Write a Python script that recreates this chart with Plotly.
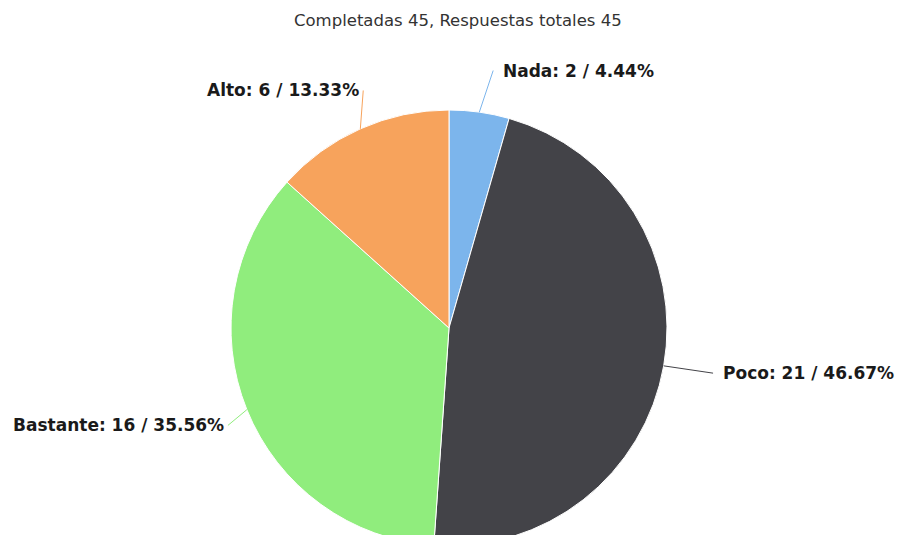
import math
import plotly.graph_objects as go

categories = ["Nada", "Poco", "Bastante", "Alto"]
values = [2, 21, 16, 6]
colors = ["#7cb5ec", "#434348", "#90ed7d", "#f7a35c"]
title_text = "Completadas 45, Respuestas totales 45"

W, H = 905, 550
# pie placement in pixels
cx_px, cy_px, r_px = 449, 328, 218

dom_x = [(cx_px - r_px) / W, (cx_px + r_px) / W]
dom_y = [1 - (cy_px + r_px) / H, 1 - (cy_px - r_px) / H]

fig = go.Figure(go.Pie(
    labels=categories, values=values, sort=False, direction="clockwise", rotation=0,
    marker=dict(colors=colors, line=dict(color="#ffffff", width=1)),
    textinfo="none", hoverinfo="label+value+percent", showlegend=False,
    domain=dict(x=dom_x, y=dom_y),
))

total = sum(values)
shapes, annotations = [], []
cum = 0
R_lab = r_px + 42
for cat, v, col in zip(categories, values, colors):
    mid = (cum + v / 2) / total * 2 * math.pi
    cum += v
    s, c = math.sin(mid), -math.cos(mid)
    ex, ey = cx_px + r_px * s, cy_px + r_px * c
    lx, ly = cx_px + R_lab * s, cy_px + R_lab * c
    right = s > 0
    tx = lx + 16 if right else lx + 18
    endx = tx - 8 if right else tx + 2
    shapes.append(dict(type="line", xref="paper", yref="paper",
                       x0=ex / W, y0=1 - ey / H, x1=endx / W, y1=1 - ly / H,
                       line=dict(color=col, width=1)))
    pct = v / total * 100
    annotations.append(dict(
        text=f"<b>{cat}: {v} / {pct:.2f}%</b>", xref="paper", yref="paper",
        x=max(tx, 0) / W, y=1 - ly / H, xanchor="left" if right else "right", yanchor="middle",
        showarrow=False, font=dict(family="DejaVu Sans", size=17, color="#1a1a1a")))

annotations.append(dict(text=title_text, xref="paper", yref="paper", x=458 / W, y=1 - 20 / H,
                        xanchor="center", yanchor="middle", showarrow=False,
                        font=dict(family="DejaVu Sans", size=16.5, color="#333333")))

fig.update_layout(width=W, height=H, margin=dict(l=0, r=0, t=0, b=0),
                  paper_bgcolor="white", plot_bgcolor="white",
                  shapes=shapes, annotations=annotations)

fig.write_html("out.html", config={"displayModeBar": False},
               post_script="document.body.style.margin='0';document.body.style.overflow='hidden';")
